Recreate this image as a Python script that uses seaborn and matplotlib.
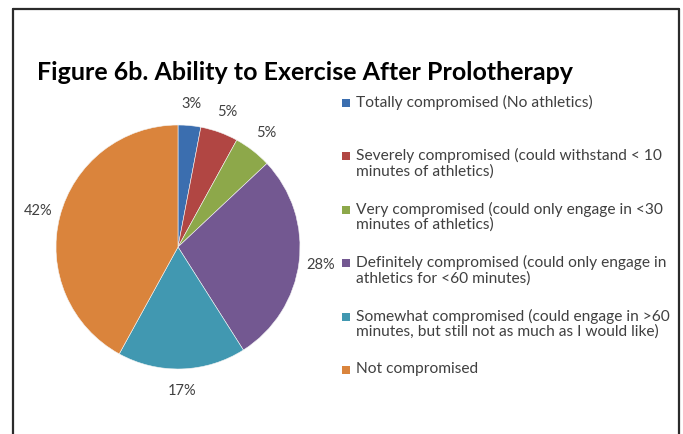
import matplotlib
matplotlib.use("Agg")
import seaborn as sns
import matplotlib.pyplot as plt
from matplotlib.patches import Rectangle
from matplotlib.lines import Line2D

categories = [
    "Totally compromised (No athletics)",
    "Severely compromised (could withstand < 10\nminutes of athletics)",
    "Very compromised (could only engage in <30\nminutes of athletics)",
    "Definitely compromised (could only engage in\nathletics for <60 minutes)",
    "Somewhat compromised (could engage in >60\nminutes, but still not as much as I would like)",
    "Not compromised",
]
values = [3, 5, 5, 28, 17, 42]
colors = ["#3B6EAF", "#B14643", "#8DA84A", "#735891", "#4198B1", "#DA843C"]
title = "Figure 6b. Ability to Exercise After Prolotherapy"

sns.set_theme(style="white")
plt.rcParams["font.family"] = ["Lato", "DejaVu Sans"]

W, H = 683, 434
fig = plt.figure(figsize=(W / 100, H / 100), dpi=100)
fig.patch.set_facecolor("white")

# pie axes: centre (178, 247) px, radius 122 px
cx, cy, r = 178, 247, 122
ax = fig.add_axes([(cx - r) / W, (H - cy - r) / H, 2 * r / W, 2 * r / H])
wedges, texts, autotexts = ax.pie(
    values, colors=colors, startangle=90, counterclock=False,
    autopct="%1.0f%%", pctdistance=1.18,
    wedgeprops=dict(linewidth=0.4, edgecolor="#f4f4f4"),
    textprops=dict(color="#404040", fontsize=10.5),
)
ax.set_xlim(-1, 1)
ax.set_ylim(-1, 1)
ax.set_aspect("auto")
ax.axis("off")

fig.text(37 / W, 1 - 73 / H, title, ha="left", va="center",
         fontsize=18, fontweight="bold", color="black")

# legend, one slot every 53.4 px
for i, (lab, col) in enumerate(zip(categories, colors)):
    yc = 103 + i * 53.4
    fig.add_artist(Rectangle((342 / W, 1 - (yc + 4) / H), 8 / W, 8 / H,
                             transform=fig.transFigure, facecolor=col,
                             edgecolor="none"))
    fig.text(356 / W, 1 - (yc - 8) / H, lab, ha="left", va="top",
             fontsize=11.2, color="#404040", linespacing=1.08)

# frame
kw = dict(transform=fig.transFigure, color="#2b2b2b", linewidth=1.6)
fig.add_artist(Line2D([13 / W, 13 / W], [0, 1 - 9 / H], **kw))
fig.add_artist(Line2D([13 / W, 679 / W], [1 - 9 / H, 1 - 9 / H], **kw))
fig.add_artist(Line2D([679 / W, 679 / W], [0, 1 - 9 / H], **kw))

fig.savefig("out.png", dpi=100)
